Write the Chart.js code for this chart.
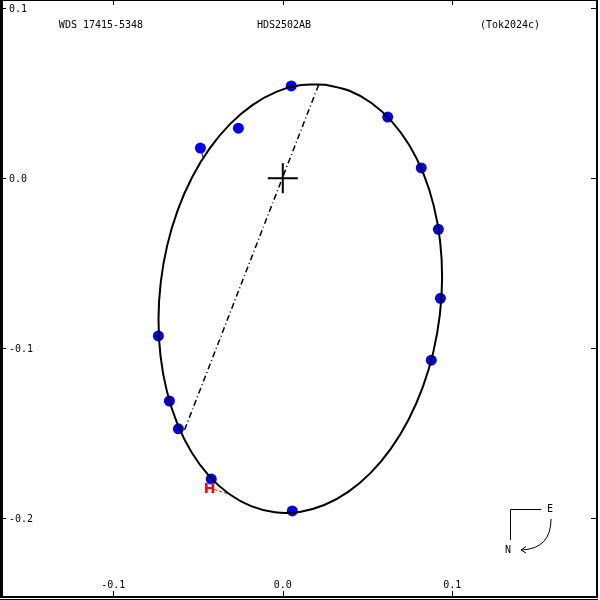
<!DOCTYPE html>
<html>
<head>
<meta charset="utf-8">
<script src="https://cdn.jsdelivr.net/npm/chart.js@4/dist/chart.umd.min.js"></script>
<style>
  html, body { margin: 0; padding: 0; background: #fff; }
  #wrap { width: 600px; height: 600px; }
</style>
</head>
<body>
<div id="wrap"><canvas id="orbit" width="600" height="600"></canvas></div>
<script>
// observed positions (arcsec)
const obsX = [0.0050, -0.0262, -0.0486, 0.0619, 0.0817, 0.0918, 0.0930, 0.0876, -0.0734, -0.0669, -0.0616, -0.0422, 0.0056];
const obsY = [0.0543, 0.0295, 0.0178, 0.0360, 0.0061, -0.0300, -0.0706, -0.1070, -0.0927, -0.1310, -0.1474, -0.1769, -0.1957];

// orbit outline (closed loop)
const orbX = [0.02524, 0.03931, 0.05250, 0.06440, 0.07466, 0.08297, 0.08907, 0.09279, 0.09399, 0.09265, 0.08881, 0.08258,
  0.07416, 0.06380, 0.05182, 0.03858, 0.02446, 0.00993, -0.00459, -0.01865, -0.03184, -0.04375, -0.05401, -0.06231,
  -0.06841, -0.07213, -0.07333, -0.07199, -0.06815, -0.06193, -0.05350, -0.04314, -0.03116, -0.01792, -0.00381, 0.01073, 0.02524];
const orbY = [0.05506, 0.05147, 0.04416, 0.03336, 0.01940, 0.00271, -0.01622, -0.03681, -0.05843, -0.08041, -0.10210, -0.12284,
  -0.14200, -0.15898, -0.17328, -0.18448, -0.19221, -0.19625, -0.19648, -0.19288, -0.18558, -0.17477, -0.16081, -0.14413,
  -0.12520, -0.10460, -0.08299, -0.06101, -0.03932, -0.01858, 0.00058, 0.01757, 0.03187, 0.04306, 0.05080, 0.05483, 0.05506];

// line of nodes
const nodeX = [0.0211, -0.0580];
const nodeY = [0.0549, -0.1481];

// residual stub
const resX = [-0.0486, -0.0470];
const resY = [0.0178, 0.0122];

// Hipparcos point
const hipX = [-0.0432];
const hipY = [-0.1822];
const hipLineX = [-0.0432, -0.0320];
const hipLineY = [-0.1822, -0.1857];

const xTicks = [-0.1, 0.0, 0.1];
const xTickLabels = ['-0.1', '0.0', '0.1'];
const yTicks = [0.1, 0.0, -0.1, -0.2];
const yTickLabels = ['0.1', '0.0', '-0.1', '-0.2'];

const titles = ['WDS 17415-5348', 'HDS2502AB', '(Tok2024c)'];

const pts = (xs, ys) => xs.map((x, i) => ({ x, y: ys[i] }));

const decor = {
  id: 'decor',
  afterDraw(chart) {
    const ctx = chart.ctx;
    const xs = chart.scales.x, ys = chart.scales.y;
    ctx.save();
    ctx.strokeStyle = '#000';
    ctx.fillStyle = '#000';

    // frame
    ctx.lineWidth = 1;
    ctx.beginPath(); ctx.moveTo(0, 0.5); ctx.lineTo(598, 0.5); ctx.stroke();
    ctx.beginPath(); ctx.moveTo(0, 599.5); ctx.lineTo(598, 599.5); ctx.stroke();
    ctx.lineWidth = 3;
    ctx.beginPath(); ctx.moveTo(1.5, 0); ctx.lineTo(1.5, 598); ctx.stroke();
    ctx.lineWidth = 2;
    ctx.beginPath(); ctx.moveTo(597, 0); ctx.lineTo(597, 598); ctx.stroke();
    ctx.beginPath(); ctx.moveTo(0, 597); ctx.lineTo(598, 597); ctx.stroke();

    // ticks
    ctx.lineWidth = 1;
    xTicks.forEach(v => {
      const px = Math.round(xs.getPixelForValue(v)) + 0.5;
      ctx.beginPath(); ctx.moveTo(px, 591); ctx.lineTo(px, 596); ctx.stroke();
      ctx.beginPath(); ctx.moveTo(px, 0); ctx.lineTo(px, 5); ctx.stroke();
    });
    yTicks.forEach(v => {
      const py = Math.round(ys.getPixelForValue(v)) + 0.5;
      ctx.beginPath(); ctx.moveTo(2, py); ctx.lineTo(6, py); ctx.stroke();
      ctx.beginPath(); ctx.moveTo(591, py); ctx.lineTo(596, py); ctx.stroke();
    });

    ctx.font = '10px "DejaVu Sans Mono", monospace';
    ctx.textBaseline = 'middle';
    ctx.textAlign = 'center';
    xTicks.forEach((v, i) => {
      ctx.fillText(xTickLabels[i], xs.getPixelForValue(v), 585);
    });
    ctx.textAlign = 'left';
    yTicks.forEach((v, i) => {
      ctx.fillText(yTickLabels[i], 9, ys.getPixelForValue(v) + 1);
    });

    // titles
    ctx.textAlign = 'center';
    ctx.fillText(titles[0], 101, 25);
    ctx.fillText(titles[1], 284, 25);
    ctx.fillText(titles[2], 510, 25);

    // Hipparcos marker
    ctx.fillStyle = '#ff0000';
    ctx.font = 'bold 14px "DejaVu Sans", sans-serif';
    ctx.fillText('H', xs.getPixelForValue(hipX[0]), ys.getPixelForValue(hipY[0]) + 1);

    // compass
    ctx.fillStyle = '#000';
    ctx.lineWidth = 1;
    ctx.beginPath();
    ctx.moveTo(541, 509.5); ctx.lineTo(510.5, 509.5); ctx.lineTo(510.5, 540);
    ctx.stroke();
    ctx.font = '10px "DejaVu Sans Mono", monospace';
    ctx.fillText('E', 550, 509);
    ctx.fillText('N', 508, 550);
    ctx.beginPath();
    ctx.moveTo(551, 519);
    ctx.quadraticCurveTo(551, 549, 521, 550);
    ctx.stroke();
    ctx.beginPath();
    ctx.moveTo(526, 546.5); ctx.lineTo(521, 550); ctx.lineTo(526, 553);
    ctx.stroke();
    ctx.restore();
  }
};

new Chart(document.getElementById('orbit').getContext('2d'), {
  type: 'scatter',
  data: {
    datasets: [
      {
        data: pts(orbX, orbY),
        showLine: true,
        tension: 0.33,
        borderColor: '#000',
        borderWidth: 2,
        pointRadius: 0,
        fill: false,
        order: 0
      },
      {
        data: pts([0], [0]),
        pointStyle: 'cross',
        pointRadius: 15,
        borderColor: '#000',
        borderWidth: 2,
        order: 1
      },
      {
        data: pts(nodeX, nodeY),
        showLine: true,
        borderColor: '#000',
        borderWidth: 1.5,
        borderDash: [6, 3, 1, 3],
        pointRadius: 0,
        order: 1
      },
      {
        data: pts(hipLineX, hipLineY),
        showLine: true,
        borderColor: '#ff0000',
        borderWidth: 1,
        borderDash: [3, 2],
        pointRadius: 0,
        order: 1
      },
      {
        data: pts(resX, resY),
        showLine: true,
        borderColor: '#0000ee',
        borderWidth: 1,
        pointRadius: 0,
        order: 2
      },
      {
        data: pts(obsX, obsY),
        pointRadius: 5.5,
        pointBackgroundColor: '#0000ee',
        pointBorderWidth: 0,
        order: 2
      }
    ]
  },
  options: {
    responsive: false,
    animation: false,
    layout: { autoPadding: false, padding: { left: 0, top: 0, right: 2, bottom: 3 } },
    plugins: { legend: { display: false }, tooltip: { enabled: false } },
    scales: {
      x: { type: 'linear', min: -0.16684, max: 0.18596, display: false },
      y: { type: 'linear', min: -0.2463, max: 0.10488, display: false }
    }
  },
  plugins: [decor]
});
</script>
</body>
</html>
